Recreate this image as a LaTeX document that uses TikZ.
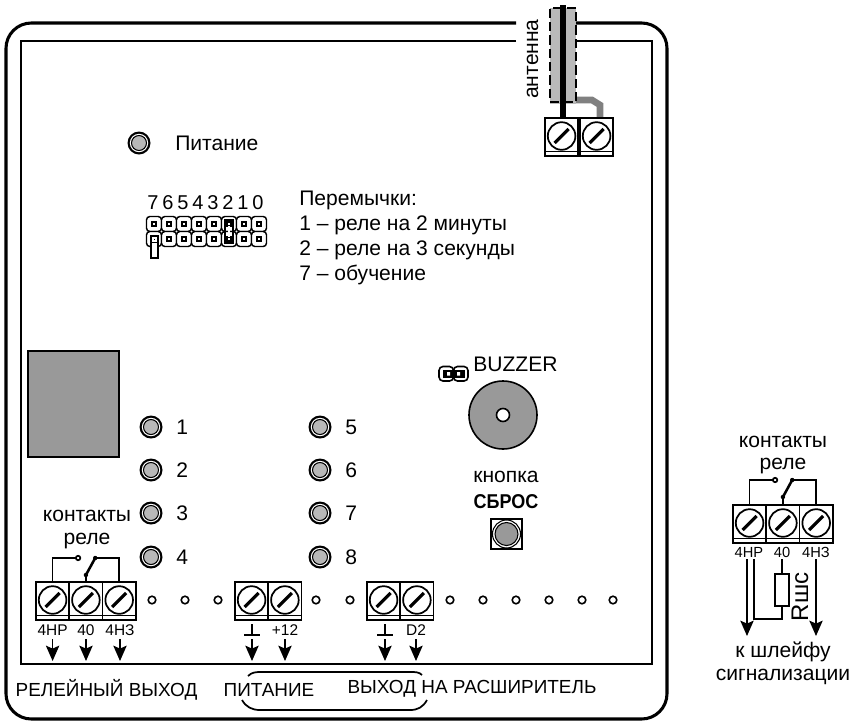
\documentclass[tikz,border=0pt]{standalone}
\usepackage{fontspec}
\setmainfont{Liberation Sans}
\usetikzlibrary{arrows.meta}
\definecolor{ledgray}{gray}{.72}
\definecolor{padgray}{gray}{.6}
\tikzset{
  lead/.style={line width=1.2pt,-{Stealth[length=11.5pt,width=10pt,inset=2.2pt]}},
  wire/.style={line width=1.3pt},
  txt/.style={inner sep=0pt,font=\fontsize{15.8}{18}\selectfont},
  low/.style={inner sep=0pt,font=\fontsize{14.2}{16}\selectfont},
  tiny/.style={inner sep=0pt,font=\fontsize{11.6}{13}\selectfont}
}
\newcommand\terminal[3]{
  \draw[line width=1.3pt] (#2,#3) rectangle ++(33.3,38);
  \draw[line width=.8pt] (#2,#3+33.5) -- ++(33.3,0);
  \draw[line width=1.3pt] (#2+16.6,#3+18) circle[radius=13.8];
  \draw[line width=2.4pt] (#2+9.6,#3+25) -- (#2+23.6,#3+11);
  \coordinate (#1) at (#2+16.6,#3);
}
\newcommand\led[4]{
  \fill (#1,#2) circle[radius=11.5];
  \fill[white] (#1,#2) circle[radius=9.2];
  \draw[fill=ledgray,line width=.8pt] (#1,#2) circle[radius=7.5];
  \node[txt,anchor=west] (led#3) at (#1+#4,#2) {#3};
}
\begin{document}
\begin{tikzpicture}[x=.75pt,y=-.75pt]
  \useasboundingbox (0,0) rectangle (853,722);
  % board
  \draw[line width=2.3pt,rounded corners=19pt] (516,23) -- (6,23) -- (6,719) -- (667,719) -- (667,23) -- (576,23);
  \draw[line width=1.7pt] (516,41) -- (21,41) -- (21,664) -- (652,664) -- (652,41) -- (576,41);
  % antenna
  \fill[gray!55] (550,8) rectangle (576,104);
  \draw[line width=5pt,color=gray] (576,100) -- (592,100) -- (600,105) -- (600,118);
  \draw[line width=1.5pt,dash pattern=on 7pt off 3pt] (576,8) -- (550,8) -- (550,102) -- (576,102) -- cycle;
  \draw[line width=5pt] (563,5) -- (563,118);
  \terminal{antA}{545}{118}
  \terminal{antB}{580}{118}
  \node[txt,rotate=90] (antlabel) at (532.5,59) {антенна};
  % leds
  \led{139}{143}{Питание}{36}
  \foreach \y/\n in {427/1,470/2,513/3,557/4}{\led{151}{\y}{\n}{25}}
  \foreach \y/\n in {427/5,470/6,513/7,557/8}{\led{320}{\y}{\n}{25}}
  % jumpers
  \foreach \x/\n in {154/7,169/6,184/5,199/4,214/3,229/2,244/1,259/0}{
    \node[txt,font=\fontsize{15}{18}\selectfont] (bit\n) at (\x-1,203) {\n};
    \foreach \y in {224,239}{
      \draw[line width=1.1pt,rounded corners=2.5pt,fill=white] (\x-7.5,\y-7.5) rectangle (\x+7.5,\y+7.5);
      \draw[line width=1pt] (\x-2,\y-2) rectangle (\x+2,\y+2);
    }
  }
  \draw[line width=2pt] (225,220) rectangle (233,243);
  \draw[white,line width=1pt] (229,226) -- (229,237);
  \draw[line width=2pt,fill=white] (151,236) rectangle (158,258);
  \fill (151,236) rectangle (158,243);
  \draw[white,line width=.8pt] (153,238) rectangle (156,241);
  % texts
  \node[txt,anchor=west] (jumphead) at (299,200) {Перемычки:};
  \node[txt,anchor=west] (jumpA) at (299,225) {1 – реле на 2 минуты};
  \node[txt,anchor=west] (jumpB) at (299,250) {2 – реле на 3 секунды};
  \node[txt,anchor=west] (jumpC) at (299,275) {7 – обучение};
  % relay block
  \draw[line width=.8pt,fill=padgray] (28,351) rectangle (119,457);
  % buzzer
  \foreach \x in {439,453.5}{\draw[line width=1.2pt,rounded corners=3pt,fill=white] (\x,366.5) rectangle ++(14.5,14.5);}
  \fill (443,369.5) rectangle (465,378);
  \fill[white] (447,372) rectangle (450,375.5) (457,372) rectangle (460,375.5);
  \node[txt,anchor=west] (buzz) at (473,364) {BUZZER};
  \draw[line width=1.2pt,fill=padgray] (503,415) circle[radius=34];
  \draw[line width=1.2pt,fill=white] (503,415) circle[radius=6.5];
  % reset
  \node[txt] (resetA) at (506,477) {кнопка};
  \node[inner sep=0pt,xscale=.9,font=\fontsize{15}{18}\selectfont\bfseries] (resetB) at (506,502) {СБРОС};
  \draw[line width=1.2pt] (491,519) rectangle (522,549);
  \draw[line width=.8pt] (506.5,534) circle[radius=14];
  \draw[line width=.8pt,fill=padgray] (506.5,534) circle[radius=11.5];
  % terminals
  \foreach \n/\x in {rA/36,rB/69.3,rC/102.6,pA/235,pB/268.3,dA/367,dB/400.3}{\terminal{\n}{\x}{582}}
  \foreach \x in {152,185,218,316,350,450,483,516,549,582,613}{\draw[line width=1.2pt] (\x,600) circle[radius=3.8];}
  \draw[wire] (rA) -- ++(0,-24) -- ++(24,0) coordinate (rN);
  \draw[wire,fill=white] (rN)++(1.5,0) circle[radius=2.2];
  \draw[wire] (rC) -- ++(0,-24) -- ++(-24,0) coordinate (rM);
  \draw[line width=1.9pt] (rB)++(0,-7) coordinate (rT) -- (rM);
  \draw[wire] (rB) -- (rT);
  \fill (rT) circle[radius=2.2] (rM) circle[radius=2.2];
  \node[txt] (relA) at (87,516) {контакты};
  \node[txt] (relB) at (87,541) {реле};
  \foreach \n/\x/\t in {labA/52.6/4НР,labB/86/40,labC/120/4НЗ,labD/285/+12,labE/416/D2}{
    \node[tiny] (\n) at (\x,630) {\t};
    \draw[lead] (\x,639) -- (\x,661);
  }
  \foreach \n/\x in {gndA/252,gndB/385}{
    \coordinate (\n) at (\x,635);
    \draw[wire] (\n) -- ++(0,-11);
    \draw[line width=1.6pt] (\n)++(-8,0) -- ++(16,0);
    \draw[lead] (\x,639) -- (\x,661);
  }
  % bottom labels
  \node[low] (outA) at (106.5,690) {РЕЛЕЙНЫЙ ВЫХОД};
  \node[low] (outB) at (269,690) {ПИТАНИЕ};
  \node[low] (outC) at (472,689) {ВЫХОД НА РАСШИРИТЕЛЬ};
  \draw[line width=1.3pt] (248,676) .. controls (252,672) and (256,672) .. (262,672) -- (410,672) .. controls (416,672) and (419,672) .. (422,675);
  \draw[line width=1.3pt] (242,700) .. controls (246,707) and (252,710) .. (260,710) -- (410,710) .. controls (418,710) and (423,707) .. (427,700);
  % external wiring
  \foreach \n/\x in {xA/733,xB/766.3,xC/799.6}{\terminal{\n}{\x}{505}}
  \draw[wire] (xA) -- ++(0,-25) -- ++(24,0) coordinate (xN);
  \draw[wire,fill=white] (xN)++(1.5,0) circle[radius=2.2];
  \draw[wire] (xC) -- ++(0,-25) -- ++(-24,0) coordinate (xM);
  \draw[line width=1.9pt] (xB)++(0,-8) coordinate (xT) -- (xM);
  \draw[wire] (xB) -- (xT);
  \fill (xT) circle[radius=2.2] (xM) circle[radius=2.2];
  \node[txt] (xrelA) at (783,442) {контакты};
  \node[txt] (xrelB) at (783,466) {реле};
  \node[tiny,font=\fontsize{11}{13}\selectfont] (xlabA) at (749,552) {4НР};
  \node[tiny,font=\fontsize{11}{13}\selectfont] (xlabB) at (782,552) {40};
  \node[tiny,font=\fontsize{11}{13}\selectfont] (xlabC) at (816,552) {4НЗ};
  \draw[lead] (747,559) -- (747,636);
  \draw[lead] (816,559) -- (816,636);
  \draw[wire] (754,559) -- (754,619) -- (782,619) -- (782,606);
  \draw[wire] (782,559) -- (782,574);
  \draw[wire] (775,574) rectangle (789,606);
  \node[txt,rotate=90,font=\fontsize{18}{20}\selectfont] (rsh) at (800,597) {Rшс};
  \node[txt] (loopA) at (783,652) {к шлейфу};
  \node[txt] (loopB) at (783,677) {сигнализации};
\end{tikzpicture}
\end{document}
